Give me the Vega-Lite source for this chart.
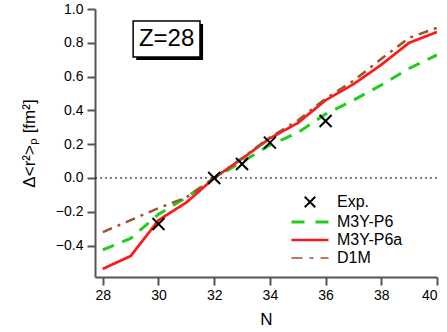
{
  "$schema": "https://vega.github.io/schema/vega-lite/v6.json",
  "width": 342,
  "height": 268,
  "autosize": {"type": "none"},
  "padding": {"left": 95, "top": 9, "right": 10, "bottom": 55},
  "background": "white",
  "config": {
    "view": {"stroke": null},
    "font": "Liberation Sans",
    "axis": {
      "grid": false,
      "domainColor": "#555555",
      "domainWidth": 2,
      "tickColor": "#555555",
      "tickWidth": 2,
      "tickSize": 8,
      "labelFontSize": 14,
      "labelColor": "black",
      "labelFont": "Liberation Sans",
      "titleFont": "Liberation Sans",
      "titleFontWeight": "normal",
      "titleColor": "black"
    }
  },
  "datasets": {
    "curves": [
      {"N": 28, "series": "M3Y-P6", "v": -0.426},
      {"N": 29, "series": "M3Y-P6", "v": -0.358},
      {"N": 30, "series": "M3Y-P6", "v": -0.215},
      {"N": 31, "series": "M3Y-P6", "v": -0.115},
      {"N": 32, "series": "M3Y-P6", "v": 0.0},
      {"N": 33, "series": "M3Y-P6", "v": 0.095},
      {"N": 34, "series": "M3Y-P6", "v": 0.195},
      {"N": 35, "series": "M3Y-P6", "v": 0.268},
      {"N": 36, "series": "M3Y-P6", "v": 0.378},
      {"N": 37, "series": "M3Y-P6", "v": 0.46},
      {"N": 38, "series": "M3Y-P6", "v": 0.55},
      {"N": 39, "series": "M3Y-P6", "v": 0.648},
      {"N": 40, "series": "M3Y-P6", "v": 0.728},
      {"N": 28, "series": "M3Y-P6a", "v": -0.538},
      {"N": 29, "series": "M3Y-P6a", "v": -0.462},
      {"N": 30, "series": "M3Y-P6a", "v": -0.25},
      {"N": 31, "series": "M3Y-P6a", "v": -0.145},
      {"N": 32, "series": "M3Y-P6a", "v": 0.0},
      {"N": 33, "series": "M3Y-P6a", "v": 0.114},
      {"N": 34, "series": "M3Y-P6a", "v": 0.235},
      {"N": 35, "series": "M3Y-P6a", "v": 0.325},
      {"N": 36, "series": "M3Y-P6a", "v": 0.46},
      {"N": 37, "series": "M3Y-P6a", "v": 0.555},
      {"N": 38, "series": "M3Y-P6a", "v": 0.67},
      {"N": 39, "series": "M3Y-P6a", "v": 0.8},
      {"N": 40, "series": "M3Y-P6a", "v": 0.864},
      {"N": 28, "series": "D1M", "v": -0.32},
      {"N": 29, "series": "D1M", "v": -0.25},
      {"N": 30, "series": "D1M", "v": -0.178},
      {"N": 31, "series": "D1M", "v": -0.115},
      {"N": 32, "series": "D1M", "v": 0.0},
      {"N": 33, "series": "D1M", "v": 0.118},
      {"N": 34, "series": "D1M", "v": 0.24},
      {"N": 35, "series": "D1M", "v": 0.34},
      {"N": 36, "series": "D1M", "v": 0.47},
      {"N": 37, "series": "D1M", "v": 0.575},
      {"N": 38, "series": "D1M", "v": 0.705},
      {"N": 39, "series": "D1M", "v": 0.83},
      {"N": 40, "series": "D1M", "v": 0.888}
    ],
    "exp": [
      {"N": 30, "series": "Exp.", "v": -0.272},
      {"N": 32, "series": "Exp.", "v": 0.0},
      {"N": 33, "series": "Exp.", "v": 0.083},
      {"N": 34, "series": "Exp.", "v": 0.209},
      {"N": 36, "series": "Exp.", "v": 0.337}
    ],
    "label": [
      {"text": "Z=28"}
    ]
  },
  "layer": [
    {
      "data": {"name": "curves"},
      "mark": {"type": "line", "clip": true},
      "encoding": {
        "x": {
          "field": "N", "type": "quantitative",
          "scale": {"domain": [27.72, 40], "nice": false, "zero": false},
          "axis": {"values": [28, 30, 32, 34, 36, 38, 40], "tickCount": 12, "title": "N", "titleFontSize": 17, "titlePadding": 9, "labelPadding": 3, "labelOverlap": false}
        },
        "y": {
          "field": "v", "type": "quantitative",
          "scale": {"domain": [-0.586, 1.0], "nice": false, "zero": false},
          "axis": {"values": [-0.4, -0.2, 0, 0.2, 0.4, 0.6, 0.8, 1.0], "tickCount": 12, "format": ".1f", "title": "Δ<r²>ₚ [fm²]", "titleFontSize": 17, "titlePadding": 17, "labelPadding": 4, "labelOverlap": false, "labelFlush": false}
        },
        "color": {
          "field": "series", "type": "nominal",
          "scale": {"domain": ["Exp.", "M3Y-P6", "M3Y-P6a", "D1M"], "range": ["black", "#1fcc1f", "#ff1a1a", "#a0522d"]},
          "legend": {
            "title": null,
            "orient": "none",
            "legendX": 207,
            "legendY": 185,
            "padding": 0,
            "labelFontSize": 16,
            "labelFont": "Liberation Sans",
            "labelColor": "black",
            "labelOffset": 19,
            "symbolType": "stroke",
            "symbolSize": 1369,
            "rowPadding": 2,
            "encode": {
              "symbols": {
                "update": {
                  "shape": {"signal": "datum.value === 'Exp.' ? 'M-1,-1L1,1M-1,1L1,-1' : 'stroke'"},
                  "size": {"signal": "datum.value === 'Exp.' ? 110 : 1369"},
                  "strokeWidth": {"signal": "datum.value === 'Exp.' ? 2 : datum.value === 'M3Y-P6' ? 3 : datum.value === 'M3Y-P6a' ? 2.5 : 1.5"},
                  "strokeDash": {"signal": "datum.value === 'M3Y-P6' ? [13, 11] : datum.value === 'D1M' ? [11, 7, 4, 7] : [1, 0]"}
                }
              }
            }
          }
        },
        "strokeWidth": {
          "field": "series", "type": "nominal",
          "scale": {"domain": ["M3Y-P6", "M3Y-P6a", "D1M"], "range": [3, 2.5, 1.5]},
          "legend": null
        },
        "strokeDash": {
          "field": "series", "type": "nominal",
          "scale": {"domain": ["M3Y-P6", "M3Y-P6a", "D1M"], "range": [[12, 9], [1, 0], [10, 6, 3, 6]]},
          "legend": null
        },
        "order": {"field": "N", "type": "quantitative"}
      }
    },
    {
      "data": {"name": "label"},
      "mark": {"type": "rule", "color": "black", "strokeDash": [2, 3], "strokeWidth": 1},
      "encoding": {"y": {"datum": 0, "type": "quantitative"}}
    },
    {
      "data": {"name": "exp"},
      "mark": {"type": "point", "shape": "M-1,-1L1,1M-1,1L1,-1", "filled": false, "size": 144, "strokeWidth": 2, "opacity": 1},
      "encoding": {
        "x": {"field": "N", "type": "quantitative"},
        "y": {"field": "v", "type": "quantitative"},
        "color": {"field": "series", "type": "nominal"}
      }
    },
    {
      "data": {"name": "label"},
      "mark": {"type": "rect", "fill": "black"},
      "encoding": {
        "x": {"datum": 29.2, "type": "quantitative"},
        "x2": {"datum": 31.6},
        "y": {"datum": 0.698, "type": "quantitative"},
        "y2": {"datum": 0.911}
      }
    },
    {
      "data": {"name": "label"},
      "mark": {"type": "rect", "fill": "white", "stroke": "black", "strokeWidth": 1.5},
      "encoding": {
        "x": {"datum": 29.09, "type": "quantitative"},
        "x2": {"datum": 31.49},
        "y": {"datum": 0.716, "type": "quantitative"},
        "y2": {"datum": 0.929}
      }
    },
    {
      "data": {"name": "label"},
      "mark": {"type": "text", "fontSize": 24, "font": "Liberation Sans", "color": "black", "align": "center", "baseline": "middle"},
      "encoding": {
        "x": {"datum": 30.29, "type": "quantitative"},
        "y": {"datum": 0.82, "type": "quantitative"},
        "text": {"field": "text"}
      }
    }
  ]
}
